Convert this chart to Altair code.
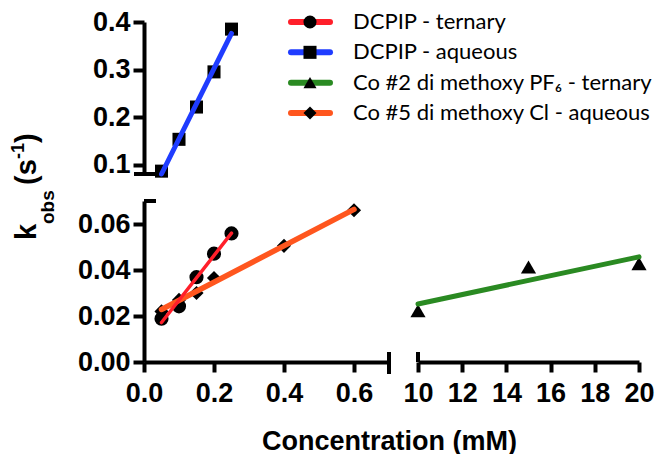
import altair as alt
import numpy as np
import pandas as pd

# ---------------- data ----------------
series_names = ["DCPIP - ternary", "DCPIP - aqueous",
                "Co #2 di methoxy PF\u2086 - ternary", "Co #5 di methoxy Cl - aqueous"]
series_colors = ["#ff1f2a", "#1f3cff", "#2a8a22", "#ff561e"]
series_shapes = ["circle", "square", "triangle-up", "diamond"]

dcpip_ternary_x = [0.05, 0.10, 0.15, 0.20, 0.25]
dcpip_ternary_y = [0.0188, 0.0242, 0.0369, 0.0471, 0.0559]
dcpip_aqueous_x = [0.05, 0.10, 0.15, 0.20, 0.25]
dcpip_aqueous_y = [0.086, 0.153, 0.221, 0.295, 0.385]
co2_ternary_x = [10, 15, 20]
co2_ternary_y = [0.0223, 0.0413, 0.0428]
co5_aqueous_x = [0.05, 0.10, 0.15, 0.20, 0.40, 0.60]
co5_aqueous_y = [0.022, 0.027, 0.030, 0.0365, 0.0505, 0.066]

top_y_ticks = [0.1, 0.2, 0.3, 0.4]
low_y_ticks = [0.0, 0.02, 0.04, 0.06]
left_x_ticks = [0.0, 0.2, 0.4, 0.6]
right_x_ticks = [10, 12, 14, 16, 18, 20]

frames, fits = [], []
for name, xs, ys in [(series_names[0], dcpip_ternary_x, dcpip_ternary_y),
                     (series_names[1], dcpip_aqueous_x, dcpip_aqueous_y),
                     (series_names[2], co2_ternary_x, co2_ternary_y),
                     (series_names[3], co5_aqueous_x, co5_aqueous_y)]:
    frames.append(pd.DataFrame({"series": name, "x": xs, "y": ys}))
    # least-squares straight line through the measured points, over their x range
    slope, intercept = np.polyfit(xs, ys, 1)
    ends = [min(xs), max(xs)]
    fits.append(pd.DataFrame({"series": name, "x": ends,
                              "y": [slope * e + intercept for e in ends]}))
df = pd.concat(frames, ignore_index=True)
fit_df = pd.concat(fits, ignore_index=True)

FONT = "Liberation Sans"
shape_scale = alt.Scale(domain=series_names, range=series_shapes)
color_scale = alt.Scale(domain=series_names, range=series_colors)
one = pd.DataFrame({"t": [""]})


def points(name_list, x, y, size):
    data = df[df.series.isin(name_list)]
    return alt.Chart(data).mark_point(filled=True, color="black", opacity=1, size=size).encode(
        x=x, y=y, shape=alt.Shape("series:N", scale=shape_scale, legend=None))


def fit_line(name, x, y, width):
    data = fit_df[fit_df.series == name]
    return alt.Chart(data).mark_line(strokeWidth=width, strokeCap="round").encode(
        x=x, y=y, color=alt.Color("series:N", scale=color_scale, legend=None))


def cap(x, x2, y, y2):
    return alt.Chart(one).mark_rule(color="black", strokeWidth=4).encode(
        x=alt.value(x), x2=alt.value(x2), y=alt.value(y), y2=alt.value(y2))


def piece(txt, size, x, y):
    return alt.Chart(pd.DataFrame({"t": [txt]})).mark_text(
        angle=270, align="left", baseline="alphabetic", font=FONT, fontWeight="bold",
        fontSize=size, color="black").encode(x=alt.value(x), y=alt.value(y), text="t:N")


# ---------------- geometry ----------------
LW = 245      # left lower panel width  (0 - 0.7)
RW = 221      # right lower panel width (10 - 20)
LH = 161      # lower panels height
TW = 140      # top panel width (same px/unit as lower left)
TH = 152      # top panel height
COLGAP = 29
ROWGAP = 27
px_per_unit = LW / 0.7
LEG_X = TW + 3 - (LW + COLGAP)   # legend origin relative to the right column

# ---------------- top panel ----------------
xt = alt.X("x:Q", scale=alt.Scale(domain=[0, TW / px_per_unit], nice=False, zero=False), axis=None)
yt = alt.Y("y:Q", scale=alt.Scale(domain=[0.08, 0.4], nice=False, zero=False),
           axis=alt.Axis(values=top_y_ticks, format=".1f", title=None))
top = alt.layer(
    points([series_names[1]], xt, yt, 170),
    fit_line(series_names[1], xt, yt, 5),
    cap(-10, 15, TH, TH),
).properties(width=TW, height=TH)

# ---------------- legend ----------------
leg_df = pd.DataFrame({"series": series_names})
yl = alt.Y("series:N", scale=alt.Scale(type="point", domain=series_names, range=[0, 91], padding=0),
           axis=None)
legend = alt.layer(
    alt.Chart(leg_df).mark_rule(strokeWidth=6, strokeCap="round").encode(
        x=alt.value(LEG_X + 4), x2=alt.value(LEG_X + 43), y=yl,
        color=alt.Color("series:N", scale=color_scale, legend=None)),
    alt.Chart(leg_df).mark_point(filled=True, color="black", opacity=1, size=170).encode(
        x=alt.value(LEG_X + 23), y=yl, shape=alt.Shape("series:N", scale=shape_scale, legend=None)),
    alt.Chart(leg_df).mark_text(align="left", baseline="middle", font="Lato", fontSize=22,
                                color="black").encode(x=alt.value(LEG_X + 66), y=yl, text="series:N"),
).properties(width=RW, height=91)

# ---------------- lower left panel ----------------
xl = alt.X("x:Q", scale=alt.Scale(domain=[0, 0.7], nice=False, zero=False),
           axis=alt.Axis(values=left_x_ticks, format=".1f", title="Concentration (mM)",
                         titleX=245, titleY=87, titleAlign="center", titleBaseline="alphabetic"))
yl2 = alt.Y("y:Q", scale=alt.Scale(domain=[0, 0.07], nice=False, zero=False),
            axis=alt.Axis(values=low_y_ticks, format=".2f", title=None))
ll = alt.layer(
    points([series_names[0], series_names[3]], xl, yl2, 200),
    fit_line(series_names[3], xl, yl2, 5.5),
    fit_line(series_names[0], xl, yl2, 3.5),
    cap(0, 12, 0, 0),
    cap(LW, LW, LH - 10, LH + 12),
    piece("k", 29, -108, 39),
    piece("obs", 19, -90, 23),
    piece("(s", 29, -108, -16),
    piece("-1", 18, -120, -42),
    piece(")", 29, -108, -58),
).properties(width=LW, height=LH)

# ---------------- lower right panel ----------------
xr = alt.X("x:Q", scale=alt.Scale(domain=[10, 20], nice=False, zero=False),
           axis=alt.Axis(values=right_x_ticks, format="d", title=None))
yr = alt.Y("y:Q", scale=alt.Scale(domain=[0, 0.07], nice=False, zero=False), axis=None)
rr = alt.layer(
    points([series_names[2]], xr, yr, 230),
    fit_line(series_names[2], xr, yr, 5),
    cap(0, 0, LH - 10, LH),
).properties(width=RW, height=LH)

chart = alt.concat(
    top, legend, ll, rr, columns=2, bounds="flush", align="each",
    spacing={"row": ROWGAP, "column": COLGAP},
).resolve_scale(
    x="independent", y="independent"
).properties(padding={"left": 2, "top": 0, "right": 0, "bottom": 0}).configure_view(
    stroke=None
).configure_axis(
    domainColor="black", domainWidth=4, tickColor="black", tickWidth=4,
    labelFont=FONT, labelFontWeight="bold", labelFontSize=27, labelColor="black",
    titleFont=FONT, titleFontWeight="bold", titleFontSize=27, titleColor="black",
    grid=False, labelFlush=False, labelOverlap=False,
).configure_axisX(tickSize=10, labelPadding=8).configure_axisY(tickSize=11, labelPadding=3)

chart.save("out.html", embed_options={"renderer": "svg", "actions": False})
